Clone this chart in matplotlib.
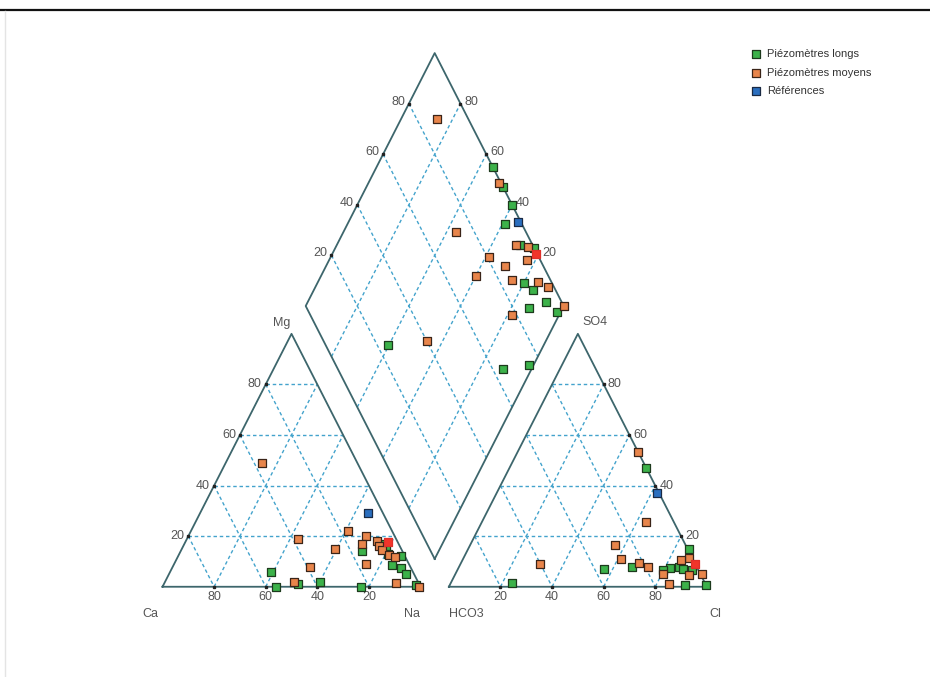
import matplotlib.pyplot as plt
import numpy as np

plt.rcParams['font.family'] = ['Liberation Sans', 'DejaVu Sans']

H = np.sqrt(3) / 2
gap = 11.0            # space between the cation and anion triangles
x_an = 100 + gap      # left corner of the anion triangle

# cations : (Na+K %, Mg %)
cat_long = [(39, 6), (44, 0), (52, 1), (60, 2), (77, 0), (70.5, 14), (77, 17),
            (79, 15), (81, 13), (86.5, 12), (84.5, 8.6), (88.7, 7.5), (92, 5),
            (98, 0.7)]
cat_moy = [(14, 49), (61, 22), (43, 19), (59.5, 15), (53, 8), (50, 2), (74.5, 9),
           (69, 20), (69, 17), (74, 18), (76, 16), (78, 14.5), (81.6, 12.5),
           (84.3, 11.6), (89.6, 1.6), (99.5, 0)]
cat_ref = [(65, 29)]
cat_red = [(78.6, 17.8)]

# anions : (Cl %, SO4 %)
an_long = [(53, 47), (23.7, 1.3), (56.5, 7), (67, 7.7), (85.5, 15), (82, 7.3),
           (79.6, 6.8), (85.3, 7.9), (87.3, 7), (90.8, 6.6), (91.2, 0.7),
           (99.3, 0.7)]
an_moy = [(46.7, 53.4), (63.4, 25.7), (56, 16.5), (30.8, 8.9), (61.5, 10.8),
          (68.9, 9.5), (73.3, 7.9), (87.3, 11.4), (84.8, 10.4), (80.5, 5),
          (90.8, 4.6), (95.8, 5), (85, 1)]
an_ref = [(62, 37)]
an_red = [(90.8, 9)]

# losange : (Na+K %, Cl+SO4 %)
dia_long = [(45, 100), (53, 100), (60, 100), (61, 93.4), (71, 95), (77, 100),
            (80, 89), (85, 91.4), (92.4, 93.8), (87, 86.3), (98.4, 96.2),
            (89, 64), (98.5, 75), (39.6, 24.2)]
dia_moy = [(14, 88), (50.5, 99.3), (43.4, 72.8), (69.3, 93.5), (74.6, 98),
           (61.5, 80.7), (69.4, 85.2), (76.9, 94.9), (60, 72), (75, 85.3),
           (85.4, 95), (90, 97.6), (100, 100), (81.6, 78), (54, 40)]
dia_ref = [(65.5, 98.9)]
dia_red = [(79, 99.5)]

ticks = [20, 40, 60, 80]


def cat_xy(na, mg):
    return na + mg / 2, mg * H


def an_xy(cl, so4):
    return x_an + cl + so4 / 2, so4 * H


def dia_xy(na, cs):
    return (na + x_an + cs) / 2, (x_an + cs - na) * H


def arr(f, pts):
    p = np.array([f(a, b) for a, b in pts])
    return p[:, 0], p[:, 1]


fig = plt.figure(figsize=(9.3, 6.77), dpi=100)
ax = fig.add_axes([0, 0, 1, 1])
ax.set_xlim(-63.0, 297.5)
ax.set_ylim(-30.9, 200.9)
ax.axis('off')

gcol = '#43a3cc'
ecol = '#3d666c'
tcol = '#555555'
ls = (0, (2.5, 2))

# dashed grids of both triangles
for f in (cat_xy, an_xy):
    for v in ticks:
        for p, q in ((f(0, v), f(100 - v, v)),
                     (f(v, 0), f(v, 100 - v)),
                     (f(0, 100 - v), f(100 - v, 0))):
            ax.plot([p[0], q[0]], [p[1], q[1]], color=gcol, lw=1.0, ls=ls, zorder=1)

# dashed grid of the diamond
for v in ticks:
    for p, q in ((dia_xy(v, 0), dia_xy(v, 100)), (dia_xy(0, v), dia_xy(100, v))):
        ax.plot([p[0], q[0]], [p[1], q[1]], color=gcol, lw=1.0, ls=ls, zorder=1)

# outlines
for f in (cat_xy, an_xy):
    c = [f(0, 0), f(100, 0), f(0, 100), f(0, 0)]
    ax.plot([a for a, b in c], [b for a, b in c], color=ecol, lw=1.3, zorder=2)
c = [dia_xy(100, 0), dia_xy(0, 0), dia_xy(0, 100), dia_xy(100, 100), dia_xy(100, 0)]
ax.plot([a for a, b in c], [b for a, b in c], color=ecol, lw=1.3, zorder=2)

# graduations
k = 0.72  # pixels -> points
lab = dict(fontsize=9, color=tcol, textcoords='offset points')
for v in ticks:
    marks = [(cat_xy(0, v), (-4, 0), 'right'),
             (cat_xy(100 - v, 0), (0, -10), 'center'),
             (an_xy(v, 0), (0, -10), 'center'),
             (an_xy(100 - v, v), (4, 0), 'left'),
             (dia_xy(0, v), (-4, 2), 'right'),
             (dia_xy(100 - v, 100), (4, 2), 'left')]
    for (x, y), (dx, dy), ha in marks:
        ax.plot(x, y, 's', ms=1.5, color='#222222', zorder=3)
        ax.annotate(str(v), (x, y), xytext=(dx * k, dy * k), ha=ha, va='center', **lab)

corners = [('Mg', cat_xy(0, 100), (-10, 11), 'center'),
           ('Ca', cat_xy(0, 0), (-12, -27), 'center'),
           ('Na', cat_xy(100, 0), (-8, -27), 'center'),
           ('SO4', an_xy(0, 100), (5, 12), 'left'),
           ('HCO3', an_xy(0, 0), (0, -27), 'left'),
           ('Cl', an_xy(100, 0), (8, -27), 'center')]
for t, (x, y), (dx, dy), ha in corners:
    ax.annotate(t, (x, y), xytext=(dx * k, dy * k), ha=ha, va='center', **lab)

# samples
green = '#3cb24a'
orange = '#e8854b'
blue = '#2b6fbf'
red = '#f2352a'
mk = dict(marker='s', s=38, linewidths=0.9, zorder=5)
series = [(cat_long, an_long, dia_long, green, '#1d3a1d', 'Piézomètres longs'),
          (cat_moy, an_moy, dia_moy, orange, '#3a2418', 'Piézomètres moyens'),
          (cat_ref, an_ref, dia_ref, blue, '#1a2a44', 'Références'),
          (cat_red, an_red, dia_red, red, '#e0302a', None)]
handles = []
for cp, ap, dp, fc, edc, name in series:
    for f, pts in ((cat_xy, cp), (an_xy, ap), (dia_xy, dp)):
        x, y = arr(f, pts)
        h = ax.scatter(x, y, c=fc, edgecolors=edc, **mk)
    if name:
        handles.append((h, name))

fig.legend([h for h, n in handles], [n for h, n in handles], loc='upper left',
           bbox_to_anchor=(752 / 930, 1 - 49 / 677), frameon=False, fontsize=8,
           handlelength=0.8, handletextpad=0.55, labelspacing=0.78, borderpad=0,
           borderaxespad=0, labelcolor='#333333', markerscale=0.95)

# window frame
fig.add_artist(plt.Line2D([0, 1], [1 - 10 / 677, 1 - 10 / 677], color='#111111', lw=1.6))
fig.add_artist(plt.Line2D([5 / 930, 5 / 930], [0, 1 - 11 / 677], color='#e4e4e4', lw=1.0))

fig.savefig('out.png', dpi=100)
